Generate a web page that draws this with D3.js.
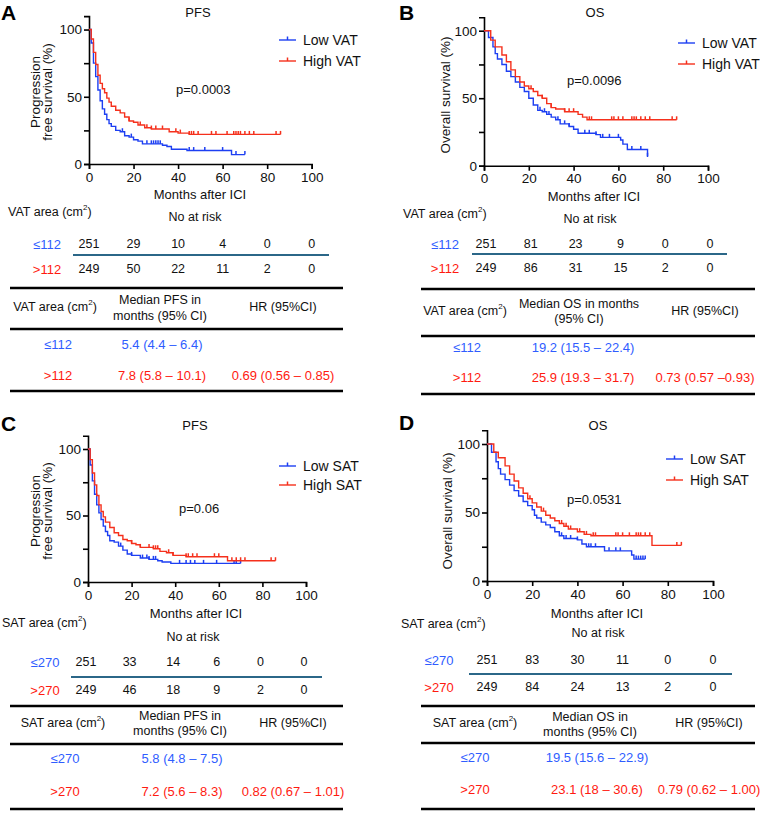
<!DOCTYPE html>
<html><head><meta charset="utf-8">
<script src="https://cdn.jsdelivr.net/npm/d3@7"></script>
<style>
body{margin:0;background:#fff;}
svg text{font-family:"Liberation Sans",Arial,sans-serif;}
</style></head>
<body><svg id="c" width="760" height="813"></svg>
<script>
// ---------- DATA ----------
const xTicks = [0, 20, 40, 60, 80, 100];
const yTicks = [0, 25, 50, 75, 100];

// Panel A: PFS by VAT
const pfsVatLow = [[0,100],[1,90],[2,75],[3,65],[4,55],[5,47],[6,41],[7,37],[8,33],[9,30],[10,28],[12,25],[14,24],[16,21],[18,20],[20,18],[22,17],[24,15],[33,14],[35,13],[37,11],[44,10],[63,10],[64,7],[70,7]];
const pfsVatLowCens = [15,19,26,28,29,30,31,32,45,47,52,60,66,70];
const pfsVatHigh = [[0,100],[1,93],[2,83],[3,74],[4,66],[5,60],[6,56],[7,53],[8,49],[9,46],[10,43],[12,40],[14,38],[16,35],[18,32],[20,31],[22,29],[25,27],[28,26],[36,24],[40,23],[45,22],[86,22]];
const pfsVatHighCens = [18,23,26,28,30,33,39,41,45,46,47,49,55,57,62,65,66,67,68,70,72,74,84,86];

// Panel B: OS by VAT
const osVatLow = [[0,100],[2,95],[4,88],[5,83],[6,79],[8,75],[10,70],[12,66],[14,62],[16,58],[18,55],[20,50],[22,45],[24,41],[26,40],[28,38],[30,36],[32,34],[34,31],[38,29],[40,27],[42,24],[50,23],[52,21],[60,21],[61,19],[62,16],[64,12],[72,12],[73,7],[73.3,7]];
const osVatLowCens = [25,27,29,33,36,38,45,47,50,53,56,60,66,70,73];
const osVatHigh = [[0,100],[3,93],[5,88],[8,82],[10,77],[12,71],[14,66],[16,62],[18,59],[20,57],[22,55],[24,52],[26,50],[28,46],[30,43],[32,42],[36,40],[42,38],[44,36],[46,34],[86,34]];
const osVatHighCens = [21,26,30,36,38,40,47,48,57,58,60,62,66,67,68,70,72,74,84,86];

// Panel C: PFS by SAT
const pfsSatLow = [[0,100],[1,88],[2,76],[3,66],[4,58],[5,52],[6,47],[7,42],[8,38],[9,35],[10,31],[12,30],[14,27],[16,24],[18,21],[20,20],[24,18],[28,17],[32,16],[34,15],[38,14],[70,14]];
const pfsSatLowCens = [15,20,25,27,28,30,31,42,45,47,49,53,59,67,68,70];
const pfsSatHigh = [[0,100],[1,92],[2,82],[3,73],[4,65],[5,58],[6,53],[7,49],[8,45],[10,41],[12,37],[14,35],[16,32],[18,31],[20,29],[22,28],[24,26],[30,25],[33,23],[36,22],[39,20],[45,19],[63,19],[64,16],[86,16]];
const pfsSatHighCens = [20,24,28,30,31,32,37,39,45,46,48,50,58,60,66,68,70,72,84,86];

// Panel D: OS by SAT
const osSatLow = [[0,100],[2,94],[4,87],[5,82],[6,78],[8,74],[10,70],[12,66],[14,62],[16,58],[18,55],[20,52],[21,48],[22,46],[24,43],[26,41],[28,39],[30,36],[32,33],[34,31],[40,30],[42,27],[44,25],[50,25],[52,22],[62,22],[64,19],[65,16],[70,16]];
const osSatLowCens = [33,35,37,40,45,46,48,54,57,59,66,67,68,69,70];
const osSatHigh = [[0,100],[3,94],[5,90],[8,84],[10,78],[12,73],[14,68],[16,64],[18,60],[20,57],[22,54],[24,51],[26,48],[28,46],[30,44],[32,42],[34,40],[36,38],[40,36],[43,34],[46,33],[72,33],[73,26],[86,26]];
const osSatHighCens = [19,25,33,35,37,41,44,47,48,57,58,60,63,66,67,68,70,72,84,86];

// Numbers at risk
const riskPfsVatLow = [251,29,10,4,0,0];
const riskPfsVatHigh = [249,50,22,11,2,0];
const riskOsVatLow = [251,81,23,9,0,0];
const riskOsVatHigh = [249,86,31,15,2,0];
const riskPfsSatLow = [251,33,14,6,0,0];
const riskPfsSatHigh = [249,46,18,9,2,0];
const riskOsSatLow = [251,83,30,11,0,0];
const riskOsSatHigh = [249,84,24,13,2,0];

// Group labels
const vatGroups = ["≤112", ">112"];
const satGroups = ["≤270", ">270"];
const vatLegend = ["Low VAT", "High VAT"];
const satLegend = ["Low SAT", "High SAT"];

// Summary tables: median (95% CI) and HR (95% CI)
const medPfsVat = ["5.4 (4.4 – 6.4)", "7.8 (5.8 – 10.1)"];
const hrPfsVat = ["", "0.69 (0.56 – 0.85)"];
const medOsVat = ["19.2 (15.5 – 22.4)", "25.9 (19.3 – 31.7)"];
const hrOsVat = ["", "0.73 (0.57 –0.93)"];
const medPfsSat = ["5.8 (4.8 – 7.5)", "7.2 (5.6 – 8.3)"];
const hrPfsSat = ["", "0.82 (0.67 – 1.01)"];
const medOsSat = ["19.5 (15.6 – 22.9)", "23.1 (18 – 30.6)"];
const hrOsSat = ["", "0.79 (0.62 – 1.00)"];

const pValues = ["p=0.0003", "p=0.0096", "p=0.06", "p=0.0531"];

// ---------- STYLE ----------
const BLUE = "#1d3ff2", RED = "#f5301c";
const TBLUE = "#2f5dff", TRED = "#ff1a10";
const TEAL = "#2b6788";
const FONT = 12.5;

const svg = d3.select("#c");

function survAt(pts, t) {
  let v = pts[0][1];
  for (const p of pts) { if (p[0] <= t) v = p[1]; }
  return v;
}

function txt(g, x, y, s, opt = {}) {
  const t = g.append("text").attr("x", x).attr("y", y)
    .attr("dominant-baseline", "central")
    .attr("text-anchor", opt.anchor || "middle")
    .attr("font-size", opt.size || FONT)
    .attr("fill", opt.fill || "#111");
  if (opt.bold) t.attr("font-weight", "bold");
  t.text(s);
  return t;
}
function areaLabel(g, x, y, name, anchor) {
  const t = g.append("text").attr("x", x).attr("y", y)
    .attr("dominant-baseline", "central").attr("text-anchor", anchor || "start")
    .attr("font-size", FONT).attr("fill", "#111");
  t.append("tspan").text(name + " area (cm");
  t.append("tspan").attr("font-size", 8).attr("dy", -5).text("2");
  t.append("tspan").attr("dy", 5).text(")");
}

const panels = [
  { letter: "A", lx: 1, ly: 12, title: "PFS", tx: 198, ty: 12,
    x0: 89, x1: 311.7, yb: 164, yt: 16.1, low: pfsVatLow, lowC: pfsVatLowCens, high: pfsVatHigh, highC: pfsVatHighCens,
    ylab: ["Progression", "free survival (%)"], ylx: [35, 47], yly: 92,
    leg: vatLegend, legX: 279, legY: [40, 61], p: pValues[0], px: 176, py: 89,
    mY: 194, mX: 200, area: "VAT", aX: 8, aY: 212, nX: 195, nY: 217, nOff: 0,
    groups: vatGroups, gX: 47, r1: 244, r2: 269, ln: [73, 329, 255], riskLow: riskPfsVatLow, riskHigh: riskPfsVatHigh,
    tb: { x0: 10, x1: 343, top: 288, mid: 329, bot: 391, hy: 307, hAx: 55, medH: ["Median PFS  in", "months  (95% CI)"], medHx: 160, medHy: [300, 316],
          hrX: 283, rY: [344, 375], gx: 58, medX: 162, med: medPfsVat, hr: hrPfsVat } },
  { letter: "B", lx: 399, ly: 12, title: "OS", tx: 595, ty: 12,
    x0: 484, x1: 708, yb: 165.7, yt: 17.2, low: osVatLow, lowC: osVatLowCens, high: osVatHigh, highC: osVatHighCens,
    ylab: ["Overall survival (%)"], ylx: [445], yly: 95,
    leg: vatLegend, legX: 678, legY: [43, 64], p: pValues[1], px: 567, py: 80,
    mY: 196, mX: 594, area: "VAT", aX: 403, aY: 214, nX: 590, nY: 219, nOff: 2,
    groups: vatGroups, gX: 445, r1: 244, r2: 268, ln: [472, 727, 254], riskLow: riskOsVatLow, riskHigh: riskOsVatHigh,
    tb: { x0: 421, x1: 755, top: 289, mid: 336, bot: 394, hy: 311, hAx: 465, medH: ["Median OS  in months", "(95% CI)"], medHx: 579, medHy: [304, 319],
          hrX: 705, rY: [347, 377], gx: 467, medX: 583, med: medOsVat, hr: hrOsVat } },
  { letter: "C", lx: 1, ly: 423, title: "PFS", tx: 195, ty: 425,
    x0: 88, x1: 306, yb: 582, yt: 435.7, low: pfsSatLow, lowC: pfsSatLowCens, high: pfsSatHigh, highC: pfsSatHighCens,
    ylab: ["Progression", "free survival (%)"], ylx: [35, 47], yly: 511,
    leg: satLegend, legX: 279, legY: [466, 485], p: pValues[2], px: 179, py: 508,
    mY: 613, mX: 196, area: "SAT", aX: 2, aY: 623, nX: 193, nY: 637, nOff: -2,
    groups: satGroups, gX: 45, r1: 662, r2: 690, ln: [71, 322, 677], riskLow: riskPfsSatLow, riskHigh: riskPfsSatHigh,
    tb: { x0: 10, x1: 343, top: 706, mid: 744, bot: 809, hy: 723, hAx: 63, medH: ["Median PFS  in", "months  (95% CI)"], medHx: 180, medHy: [716, 731],
          hrX: 293, rY: [758, 791], gx: 65, medX: 182, med: medPfsSat, hr: hrPfsSat } },
  { letter: "D", lx: 399, ly: 422, title: "OS", tx: 598, ty: 425,
    x0: 487, x1: 713, yb: 581, yt: 430.3, low: osSatLow, lowC: osSatLowCens, high: osSatHigh, highC: osSatHighCens,
    ylab: ["Overall survival (%)"], ylx: [447], yly: 511,
    leg: satLegend, legX: 666, legY: [459, 480], p: pValues[3], px: 567, py: 499,
    mY: 613, mX: 597, area: "SAT", aX: 401, aY: 624, nX: 598, nY: 633, nOff: 0,
    groups: satGroups, gX: 439, r1: 660, r2: 687, ln: [469, 732, 674], riskLow: riskOsSatLow, riskHigh: riskOsSatHigh,
    tb: { x0: 421, x1: 755, top: 706, mid: 743, bot: 809, hy: 723, hAx: 475, medH: ["Median OS  in", "months  (95% CI)"], medHx: 590, medHy: [717, 732],
          hrX: 709, rY: [757, 789], gx: 475, medX: 597, med: medOsSat, hr: hrOsSat } }
];

panels.forEach(P => {
  const g = svg.append("g");
  const x = d3.scaleLinear().domain([0, 100]).range([P.x0, P.x1]);
  const y = d3.scaleLinear().domain([0, 110]).range([P.yb, P.yt]);

  // letter & title
  txt(g, P.lx, P.ly, P.letter, { anchor: "start", size: 21, bold: true, fill: "#000" });
  txt(g, P.tx, P.ty, P.title, { size: 13 });

  // axes
  const ax = g.append("g").attr("transform", `translate(0,${P.yb})`)
    .call(d3.axisBottom(x).tickValues(xTicks).tickSizeOuter(0).tickSize(5).tickPadding(3));
  const ay = g.append("g").attr("transform", `translate(${P.x0},0)`)
    .call(d3.axisLeft(y).tickValues(yTicks).tickFormat(d => d % 50 === 0 ? d : "").tickSizeOuter(0).tickSize(5).tickPadding(2));
  [ax, ay].forEach(a => {
    a.selectAll("path,line").attr("stroke", "#000").attr("stroke-width", 1.6);
    a.selectAll("text").attr("font-size", 13.5).attr("fill", "#111").attr("font-family", "Liberation Sans, Arial, sans-serif");
  });

  // y label
  P.ylab.forEach((s, i) => {
    g.append("text").attr("transform", `translate(${P.ylx[i]},${P.yly}) rotate(-90)`)
      .attr("text-anchor", "middle").attr("dominant-baseline", "central")
      .attr("font-size", 13.5).attr("fill", "#111").text(s);
  });

  // curves
  const line = d3.line().x(d => x(d[0])).y(d => y(d[1])).curve(d3.curveStepAfter);
  [[P.low, P.lowC, BLUE], [P.high, P.highC, RED]].forEach(([pts, cens, col]) => {
    g.append("path").datum(pts).attr("d", line).attr("fill", "none")
      .attr("stroke", col).attr("stroke-width", 1.4);
    g.selectAll(null).data(cens).enter().append("line")
      .attr("x1", d => x(d)).attr("x2", d => x(d))
      .attr("y1", d => y(survAt(pts, d)) - 3.5).attr("y2", d => y(survAt(pts, d)))
      .attr("stroke", col).attr("stroke-width", 1.5);
  });

  // legend
  [BLUE, RED].forEach((col, i) => {
    const ly = P.legY[i];
    g.append("line").attr("x1", P.legX).attr("x2", P.legX + 17).attr("y1", ly).attr("y2", ly)
      .attr("stroke", col).attr("stroke-width", 1.4);
    g.append("line").attr("x1", P.legX + 8.5).attr("x2", P.legX + 8.5).attr("y1", ly - 3.5).attr("y2", ly)
      .attr("stroke", col).attr("stroke-width", 1.5);
    txt(g, P.legX + 24, ly, P.leg[i], { anchor: "start", size: 14 });
  });

  // p-value
  txt(g, P.px, P.py, P.p, { anchor: "start", size: 13 });

  // x label & at-risk
  txt(g, P.mX, P.mY, "Months after ICI", { size: 13 });
  areaLabel(g, P.aX, P.aY, P.area);
  txt(g, P.nX, P.nY, "No at risk");
  txt(g, P.gX, P.r1, P.groups[0], { fill: TBLUE, size: 13 });
  txt(g, P.gX, P.r2, P.groups[1], { fill: TRED, size: 13 });
  xTicks.forEach((m, i) => {
    txt(g, x(m) + P.nOff, P.r1, P.riskLow[i]);
    txt(g, x(m) + P.nOff, P.r2, P.riskHigh[i]);
  });
  g.append("line").attr("x1", P.ln[0]).attr("x2", P.ln[1]).attr("y1", P.ln[2]).attr("y2", P.ln[2])
    .attr("stroke", TEAL).attr("stroke-width", 2);

  // summary table
  const T = P.tb;
  [T.top, T.mid, T.bot].forEach(yy => {
    g.append("line").attr("x1", T.x0).attr("x2", T.x1).attr("y1", yy).attr("y2", yy)
      .attr("stroke", "#000").attr("stroke-width", 2.4);
  });
  areaLabel(g, T.hAx, T.hy, P.area, "middle");
  T.medH.forEach((s, i) => txt(g, T.medHx, T.medHy[i], s));
  txt(g, T.hrX, T.hy, "HR (95%CI)");
  [TBLUE, TRED].forEach((col, i) => {
    txt(g, T.gx, T.rY[i], P.groups[i], { fill: col, size: 13 });
    txt(g, T.medX, T.rY[i], T.med[i], { fill: col, size: 13 });
    if (T.hr[i]) txt(g, T.hrX, T.rY[i], T.hr[i], { fill: col, size: 13 });
  });
});
</script></body></html>
